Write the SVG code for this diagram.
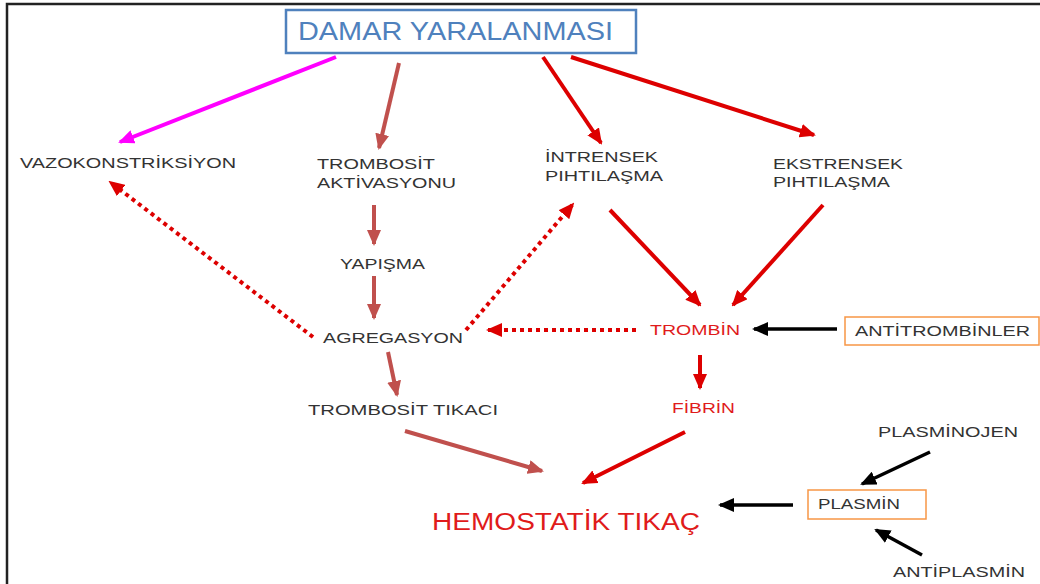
<svg xmlns="http://www.w3.org/2000/svg" width="1040" height="584" viewBox="0 0 1040 584">
<defs>
<style>
.t{font-family:"Liberation Sans",Arial,sans-serif;font-size:15px;fill:#333}
.r{fill:#e01b1b}
.big{font-size:23px}
.title{font-family:"Liberation Sans Narrow","Liberation Sans",Arial,sans-serif;font-size:26px;fill:#4f81bd}
.ln{fill:none;stroke-width:4;stroke-linecap:butt}
.mag{stroke:#ff00ff}
.br{stroke:#c0504d}
.rd{stroke:#dd0000}
.dot{stroke:#dd0000;stroke-dasharray:4 4}
.bk{stroke:#000;stroke-width:3.5}
</style>
<marker id="mMag" markerUnits="userSpaceOnUse" markerWidth="16" markerHeight="14" refX="14" refY="7" orient="auto"><path d="M0,0 L16,7 L0,14 z" fill="#ff00ff"/></marker>
<marker id="mBr" markerUnits="userSpaceOnUse" markerWidth="16" markerHeight="14" refX="14" refY="7" orient="auto"><path d="M0,0 L16,7 L0,14 z" fill="#c0504d"/></marker>
<marker id="mRd" markerUnits="userSpaceOnUse" markerWidth="16" markerHeight="14" refX="14" refY="7" orient="auto"><path d="M0,0 L16,7 L0,14 z" fill="#dd0000"/></marker>
<marker id="mBk" markerUnits="userSpaceOnUse" markerWidth="16" markerHeight="14" refX="14" refY="7" orient="auto"><path d="M0,0 L16,7 L0,14 z" fill="#000"/></marker>
</defs>
<rect x="0" y="0" width="1040" height="584" fill="#fff"/>
<path d="M7,584 V4 H1040" fill="none" stroke="#222" stroke-width="2.5"/>

<g id="connectors">
<line class="ln mag" x1="336" y1="57" x2="120" y2="142" marker-end="url(#mMag)"/>
<line class="ln br" x1="399" y1="63" x2="379" y2="148" marker-end="url(#mBr)"/>
<line class="ln rd" x1="543" y1="57" x2="601" y2="143" marker-end="url(#mRd)"/>
<line class="ln rd" x1="571" y1="57" x2="814" y2="135" marker-end="url(#mRd)"/>
<line class="ln br" x1="374" y1="205" x2="374" y2="244" marker-end="url(#mBr)"/>
<line class="ln br" x1="374" y1="276" x2="374" y2="318" marker-end="url(#mBr)"/>
<line class="ln br" x1="388" y1="352" x2="397" y2="395" marker-end="url(#mBr)"/>
<line class="ln br" x1="405" y1="431" x2="542" y2="471" marker-end="url(#mBr)"/>
<line class="ln rd" x1="685" y1="432" x2="583" y2="483" marker-end="url(#mRd)"/>
<line class="ln rd" x1="700" y1="355" x2="700" y2="388" marker-end="url(#mRd)"/>
<line class="ln rd" x1="610" y1="210" x2="700" y2="305" marker-end="url(#mRd)"/>
<line class="ln rd" x1="823" y1="205" x2="733" y2="305" marker-end="url(#mRd)"/>
<line class="ln dot" x1="313" y1="337" x2="110" y2="182" marker-end="url(#mRd)"/>
<line class="ln dot" x1="466" y1="330" x2="573" y2="204" marker-end="url(#mRd)"/>
<line class="ln dot" x1="636" y1="330" x2="488" y2="330" marker-end="url(#mRd)"/>
<line class="ln bk" x1="837" y1="329" x2="754" y2="329" marker-end="url(#mBk)"/>
<line class="ln bk" x1="793" y1="505" x2="720" y2="505" marker-end="url(#mBk)"/>
<line class="ln bk" x1="930" y1="452" x2="862" y2="484" marker-end="url(#mBk)"/>
<line class="ln bk" x1="922" y1="555" x2="876" y2="530" marker-end="url(#mBk)"/>
</g>

<g id="n-damar">
<rect x="286" y="10" width="350" height="43" fill="#fff" stroke="#4f81bd" stroke-width="2.5"/>
<text class="title" x="298" y="40" textLength="315" lengthAdjust="spacingAndGlyphs">DAMAR YARALANMASI</text>
</g>
<g id="n-vazo"><text class="t" x="20" y="168" textLength="216" lengthAdjust="spacingAndGlyphs">VAZOKONSTRİKSİYON</text></g>
<g id="n-trakt">
<text class="t" x="317" y="169" textLength="118" lengthAdjust="spacingAndGlyphs">TROMBOSİT</text>
<text class="t" x="317" y="188" textLength="139" lengthAdjust="spacingAndGlyphs">AKTİVASYONU</text>
</g>
<g id="n-intr">
<text class="t" x="545" y="162" textLength="113" lengthAdjust="spacingAndGlyphs">İNTRENSEK</text>
<text class="t" x="545" y="181" textLength="118" lengthAdjust="spacingAndGlyphs">PIHTILAŞMA</text>
</g>
<g id="n-ekst">
<text class="t" x="773" y="169" textLength="130" lengthAdjust="spacingAndGlyphs">EKSTRENSEK</text>
<text class="t" x="773" y="187" textLength="117" lengthAdjust="spacingAndGlyphs">PIHTILAŞMA</text>
</g>
<g id="n-yap"><text class="t" x="340" y="269" textLength="85" lengthAdjust="spacingAndGlyphs">YAPIŞMA</text></g>
<g id="n-agr"><text class="t" x="323" y="343" textLength="140" lengthAdjust="spacingAndGlyphs">AGREGASYON</text></g>
<g id="n-trombin"><text class="t r" x="650" y="335" textLength="90" lengthAdjust="spacingAndGlyphs">TROMBİN</text></g>
<g id="n-antitr">
<rect x="845" y="317" width="194" height="28" fill="#fff" stroke="#f79646" stroke-width="1.5"/>
<text class="t" x="855" y="336" textLength="175" lengthAdjust="spacingAndGlyphs">ANTİTROMBİNLER</text>
</g>
<g id="n-trtik"><text class="t" x="308" y="415" textLength="190" lengthAdjust="spacingAndGlyphs">TROMBOSİT TIKACI</text></g>
<g id="n-fibrin"><text class="t r" x="672" y="413" textLength="63" lengthAdjust="spacingAndGlyphs">FİBRİN</text></g>
<g id="n-plasminojen"><text class="t" x="878" y="437" textLength="140" lengthAdjust="spacingAndGlyphs">PLASMİNOJEN</text></g>
<g id="n-plasmin">
<rect x="808" y="490" width="118" height="29" fill="#fff" stroke="#f79646" stroke-width="1.5"/>
<text class="t" x="818" y="509" textLength="82" lengthAdjust="spacingAndGlyphs">PLASMİN</text>
</g>
<g id="n-hemo"><text class="t r big" x="432" y="530" textLength="268" lengthAdjust="spacingAndGlyphs">HEMOSTATİK TIKAÇ</text></g>
<g id="n-antipl"><text class="t" x="893" y="577" textLength="132" lengthAdjust="spacingAndGlyphs">ANTİPLASMİN</text></g>
</svg>
